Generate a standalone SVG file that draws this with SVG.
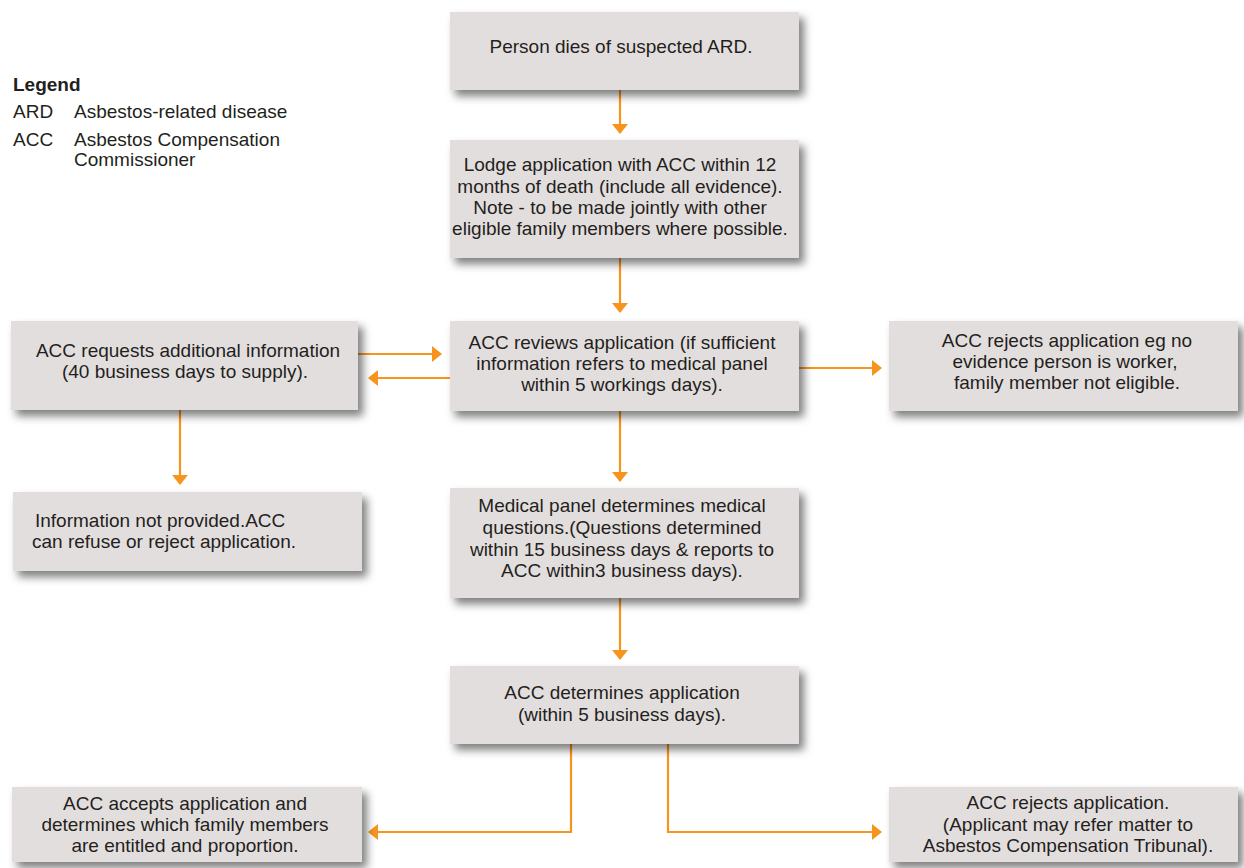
<svg xmlns="http://www.w3.org/2000/svg" width="1244" height="868" viewBox="0 0 1244 868">
<defs>
<style>
.box{fill:#E3DEDE;filter:url(#sh)}
.t{font-family:"Liberation Sans",Arial,sans-serif;font-size:19px;fill:#231F20;text-anchor:middle}
.l{font-family:"Liberation Sans",Arial,sans-serif;font-size:19px;fill:#231F20}
.c{fill:none;stroke:#F7941D;stroke-width:2.2}
</style>
<filter id="sh" x="-10%" y="-20%" width="125%" height="150%">
<feDropShadow dx="5" dy="6" stdDeviation="4" flood-color="#000" flood-opacity="0.5"/>
</filter>
<marker id="a" viewBox="0 0 10 16" refX="9" refY="8" markerWidth="10" markerHeight="16" markerUnits="userSpaceOnUse" orient="auto">
<path d="M0,0 L10,8 L0,16 z" fill="#F7941D"/>
</marker>
</defs>
<rect width="1244" height="868" fill="#fff"/>

<g id="legend">
<text class="l" x="13" y="91" font-weight="bold">Legend</text>
<text class="l" x="13" y="118">ARD</text>
<text class="l" x="74" y="118">Asbestos-related disease</text>
<text class="l" x="13" y="146">ACC</text>
<text class="l" x="74" y="146">Asbestos Compensation</text>
<text class="l" x="74" y="166">Commissioner</text>
</g>

<g id="connectors">
<path class="c" d="M620,90 V133" marker-end="url(#a)"/>
<path class="c" d="M620,258 V312" marker-end="url(#a)"/>
<path class="c" d="M358,354 H441" marker-end="url(#a)"/>
<path class="c" d="M450,378 H369" marker-end="url(#a)"/>
<path class="c" d="M799,368 H881" marker-end="url(#a)"/>
<path class="c" d="M180,410 V484" marker-end="url(#a)"/>
<path class="c" d="M620,411 V481" marker-end="url(#a)"/>
<path class="c" d="M620,598 V659" marker-end="url(#a)"/>
<path class="c" d="M571,744 V832 H369" marker-end="url(#a)"/>
<path class="c" d="M668,744 V832 H881" marker-end="url(#a)"/>
</g>

<g id="n1">
<rect class="box" x="450" y="12" width="349" height="78"/>
<text class="t" x="621" y="53">Person dies of suspected ARD.</text>
</g>
<g id="n2">
<rect class="box" x="450" y="140" width="349" height="118"/>
<text class="t" x="620" y="171">Lodge application with ACC within 12</text>
<text class="t" x="620" y="193">months of death (include all evidence).</text>
<text class="t" x="620" y="214">Note - to be made jointly with other</text>
<text class="t" x="620" y="235">eligible family members where possible.</text>
</g>
<g id="n3">
<rect class="box" x="450" y="321" width="349" height="90"/>
<text class="t" x="622" y="349">ACC reviews application (if sufficient</text>
<text class="t" x="622" y="370">information refers to medical panel</text>
<text class="t" x="622" y="391">within 5 workings days).</text>
</g>
<g id="n4">
<rect class="box" x="11" y="321" width="347" height="89"/>
<text class="t" x="188" y="357">ACC requests additional information</text>
<text class="t" x="185" y="378">(40 business days to supply).</text>
</g>
<g id="n5">
<rect class="box" x="889" y="321" width="349" height="90"/>
<text class="t" x="1067" y="347">ACC rejects application eg no</text>
<text class="t" x="1065" y="368">evidence person is worker,</text>
<text class="t" x="1067" y="389">family member not eligible.</text>
</g>
<g id="n6">
<rect class="box" x="13" y="492" width="349" height="79"/>
<text class="l" x="35" y="527">Information not provided.ACC</text>
<text class="l" x="32" y="548">can refuse or reject application.</text>
</g>
<g id="n7">
<rect class="box" x="450" y="488" width="349" height="110"/>
<text class="t" x="622" y="512">Medical panel determines medical</text>
<text class="t" x="622" y="534">questions.(Questions determined</text>
<text class="t" x="622" y="556">within 15 business days &amp; reports to</text>
<text class="t" x="622" y="577">ACC within3 business days).</text>
</g>
<g id="n8">
<rect class="box" x="450" y="666" width="349" height="78"/>
<text class="t" x="622" y="699">ACC determines application</text>
<text class="t" x="622" y="721">(within 5 business days).</text>
</g>
<g id="n9">
<rect class="box" x="12" y="787" width="350" height="75"/>
<text class="t" x="185" y="810">ACC accepts application and</text>
<text class="t" x="185" y="831">determines which family members</text>
<text class="t" x="185" y="852">are entitled  and proportion.</text>
</g>
<g id="n10">
<rect class="box" x="889" y="787" width="349" height="75"/>
<text class="t" x="1068" y="809">ACC rejects application.</text>
<text class="t" x="1068" y="831">(Applicant may refer matter to</text>
<text class="t" x="1068" y="852">Asbestos  Compensation Tribunal).</text>
</g>
</svg>
